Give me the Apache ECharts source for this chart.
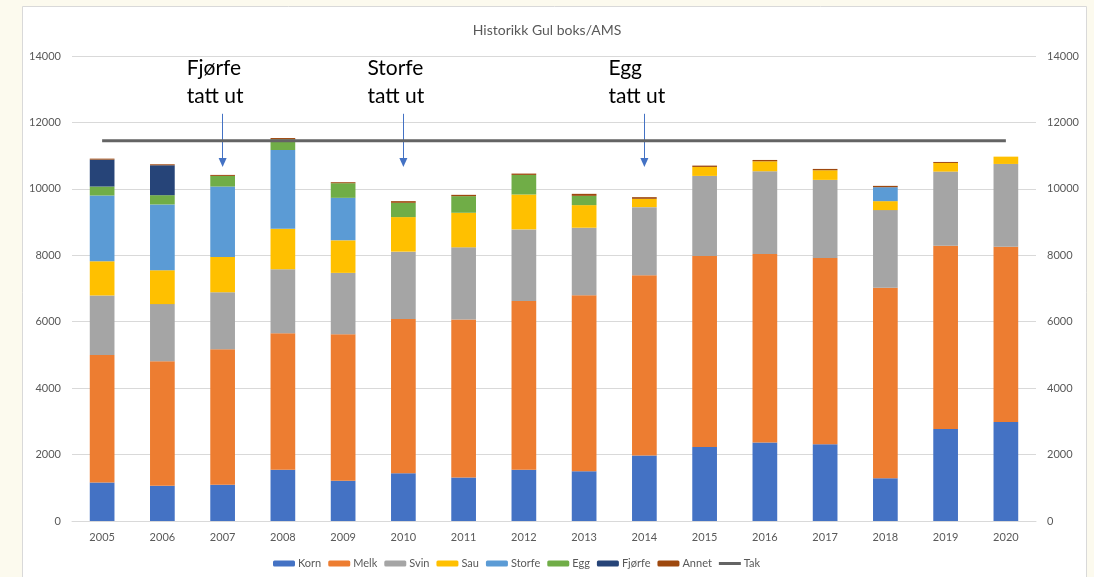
<!DOCTYPE html>
<html>
<head>
<meta charset="utf-8">
<script src="https://cdn.jsdelivr.net/npm/echarts@6/dist/echarts.min.js"></script>
<style>
  html, body { margin: 0; padding: 0; background: #fcfaee; }
  #chart { width: 1094px; height: 577px; }
</style>
</head>
<body>
<div id="chart"></div>
<script>
const years = ['2005','2006','2007','2008','2009','2010','2011','2012','2013','2014','2015','2016','2017','2018','2019','2020'];
const korn   = [1160,1060,1090,1540,1210,1440,1310,1540,1500,1970,2230,2360,2310,1290,2770,2980];
const melk   = [3840,3750,4080,4110,4410,4640,4760,5080,5300,5430,5750,5680,5610,5730,5520,5280];
const svin   = [1790,1720,1720,1930,1850,2030,2170,2160,2030,2050,2410,2490,2350,2340,2230,2490];
const sau    = [1030,1020,1060,1220,980,1040,1040,1050,680,250,270,300,290,270,260,220];
const storfe = [1980,1980,2120,2370,1280,0,0,0,0,0,0,0,0,420,0,0];
const egg    = [270,280,320,320,440,430,500,590,280,0,0,0,0,0,0,0];
const fjorfe = [810,900,0,0,0,0,0,0,0,0,0,0,0,0,0,0];
const annet  = [30,30,30,40,30,50,40,40,60,50,40,40,40,40,30,0];
const tak    = [11450,11450,11450,11450,11450,11450,11450,11450,11450,11450,11450,11450,11450,11450,11450,11450];
const yTicks = [0,2000,4000,6000,8000,10000,12000,14000];
const notes = [
  { year: '2007', text: 'Fjørfe\ntatt ut', from: 12260, to: 10790 },
  { year: '2010', text: 'Storfe\ntatt ut', from: 12260, to: 10790 },
  { year: '2014', text: 'Egg\ntatt ut', from: 12260, to: 10790 }
];

const FONT = 'Lato, "Open Sans", sans-serif';
const chart = echarts.init(document.getElementById('chart'), null, { renderer: 'canvas' });

const stackDefs = [
  ['Korn', korn, '#4472C4'],
  ['Melk', melk, '#ED7D31'],
  ['Svin', svin, '#A5A5A5'],
  ['Sau', sau, '#FFC000'],
  ['Storfe', storfe, '#5B9BD5'],
  ['Egg', egg, '#70AD47'],
  ['Fjørfe', fjorfe, '#264478'],
  ['Annet', annet, '#9E480E']
];

const series = stackDefs.map(([name, data, color]) => ({
  name, type: 'bar', stack: 'total', data: data.map(v => v === 0 ? null : v),
  barWidth: '41%',
  itemStyle: { color },
  emphasis: { disabled: true }
}));

series.push({
  name: 'Tak', type: 'line', yAxisIndex: 1, data: tak,
  symbol: 'none', lineStyle: { color: '#646464', width: 3 },
  itemStyle: { color: '#646464' },
  z: 5,
  markLine: {
    silent: true,
    symbol: ['none', 'triangle'],
    symbolSize: [8, 9],
    lineStyle: { color: '#4472C4', width: 1, type: 'solid' },
    label: {
      show: true, position: 'start', distance: 4,
      align: 'left', offset: [-36, 0],
      fontFamily: FONT, fontSize: 21, color: '#000', lineHeight: 28,
      formatter: p => p.data.txt
    },
    data: notes.map(n => [
      { coord: [n.year, n.from], txt: n.text },
      { coord: [n.year, n.to] }
    ])
  }
});

const yAxisCommon = {
  type: 'value', min: 0, max: 14000, interval: 2000,
  axisLine: { show: false }, axisTick: { show: false },
  axisLabel: { color: '#595959', fontSize: 11, fontFamily: FONT, margin: 11,
    formatter: v => String(v) }
};

chart.setOption({
  animation: false,
  backgroundColor: '#fcfaee',
  graphic: [{
    type: 'rect', left: 22, top: 6, z: -10,
    shape: { width: 1064, height: 580 },
    style: { fill: '#ffffff', stroke: '#d9d9d9', lineWidth: 1 }
  }],
  title: {
    text: 'Historikk Gul boks/AMS', left: 'center', top: 18,
    textStyle: { color: '#595959', fontSize: 14, fontWeight: 'normal', fontFamily: FONT }
  },
  legend: {
    bottom: 3, left: 268, itemWidth: 22, itemHeight: 6, itemGap: 7,
    textStyle: { color: '#595959', fontSize: 11, fontFamily: FONT, padding: [0, 0, 0, -2] },
    data: ['Korn','Melk','Svin','Sau','Storfe','Egg','Fjørfe','Annet',
      { name: 'Tak', icon: 'path://M0,0 L22,0 L22,3 L0,3 Z' }]
  },
  grid: { left: 72, right: 58, top: 56, bottom: 56, containLabel: false },
  xAxis: {
    type: 'category', data: years,
    axisLine: { lineStyle: { color: '#d9d9d9' } },
    axisTick: { show: false },
    axisLabel: { color: '#595959', fontSize: 11, fontFamily: FONT, margin: 11 }
  },
  yAxis: [
    Object.assign({}, yAxisCommon, { position: 'left',
      splitLine: { lineStyle: { color: '#d9d9d9' } } }),
    Object.assign({}, yAxisCommon, { position: 'right', splitLine: { show: false } })
  ],
  series
});
</script>
</body>
</html>
